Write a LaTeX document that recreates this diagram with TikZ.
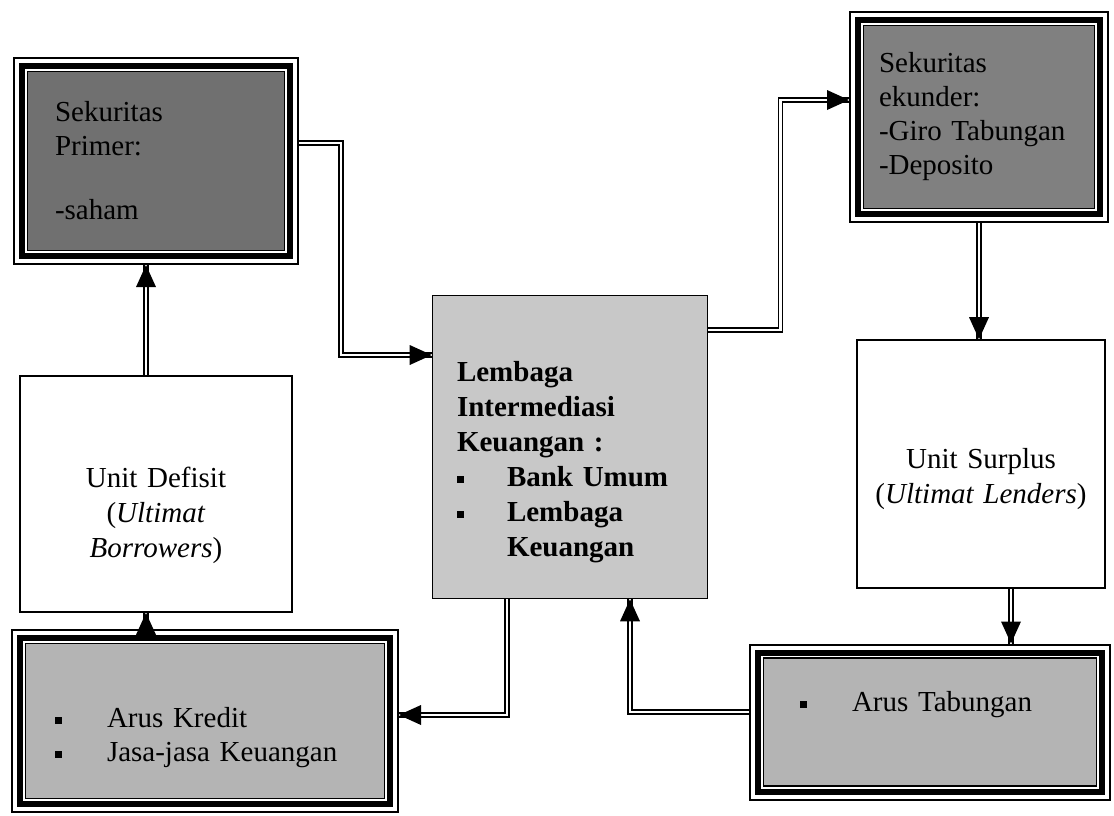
\documentclass[tikz,border=0pt]{standalone}
\usepackage{fontspec}
\setmainfont{Liberation Serif}
\usepackage{tikz}
\usetikzlibrary{arrows.meta,positioning,decorations.markings}
\definecolor{grisFonce}{RGB}{112,112,112}
\definecolor{grisMoyen}{RGB}{128,128,128}
\definecolor{grisClair}{RGB}{200,200,200}
\definecolor{grisPale}{RGB}{180,180,180}
\newcommand{\puce}{\rule[0.12em]{7pt}{7pt}}

\begin{document}
\begin{tikzpicture}[x=1pt, y=-1pt,
  boite/.style={draw, line width=1.6pt, fill=#1, inner sep=0pt,
                font=\fontsize{29}{35}\selectfont},
  cadre/.style={draw, line width=2pt, fill=white, inner sep=0pt,
                font=\fontsize{29}{34}\selectfont,
                path picture={
                  \draw[line width=6pt]
                    ([shift={(8pt,8pt)}]path picture bounding box.south west) rectangle
                    ([shift={(-8pt,-8pt)}]path picture bounding box.north east);
                  \draw[line width=1.5pt, fill=#1]
                    ([shift={(13.5pt,13.5pt)}]path picture bounding box.south west) rectangle
                    ([shift={(-13.5pt,-13.5pt)}]path picture bounding box.north east);
                }},
  fleche/.style={draw, double, double distance=2.8pt, line width=1.3pt,
                 postaction={decorate, decoration={markings,
                   mark=at position 1 with {\fill[black] (0pt,0pt) -- (-22pt,10pt)
                     -- (-22pt,-10pt) -- cycle;}}}}]

  \useasboundingbox (0,0) rectangle (1114,815);

  \node[cadre=grisFonce, minimum width=284pt, minimum height=206pt,
        text width=202pt, align=left] (SP) at (156,161)
    {Sekuritas\\Primer:\\[30pt]-saham};
  \node[cadre=grisMoyen, minimum width=258pt, minimum height=210pt,
        text width=200pt, align=left] (SE) at (979,117)
    {Sekuritas\\ekunder:\\-Giro Tabungan\\-Deposito};

  \node[boite=grisClair, minimum width=275pt, minimum height=303pt,
        text width=226pt, align=left, font=\fontsize{29}{35}\selectfont\bfseries]
    (LIK) at (570,447)
    {\mbox{}\\[16pt]Lembaga\\Intermediasi\\Keuangan :\\
     \makebox[50pt][l]{\puce}Bank Umum\\
     \makebox[50pt][l]{\puce}Lembaga\\
     \hspace*{50pt}Keuangan};

  \node[boite=white, minimum width=272pt, minimum height=236pt,
        text width=240pt, align=center] (UD) at (156,494)
    {\mbox{}\\[28pt]Unit Defisit\\(\textit{Ultimat}\\\textit{Borrowers})};
  \node[boite=white, minimum width=248pt, minimum height=248pt,
        text width=240pt, align=center] (US) at (981,464)
    {\mbox{}\\[15pt]Unit Surplus\\(\textit{Ultimat Lenders})};

  \node[cadre=grisPale, minimum width=386pt, minimum height=182pt,
        text width=300pt, align=left] (AK) at (205,721)
    {\mbox{}\\[20pt]\makebox[52pt][l]{\puce}Arus Kredit\\\makebox[52pt][l]{\puce}Jasa-jasa Keuangan};
  \node[cadre=grisPale, minimum width=360pt, minimum height=155pt,
        text width=260pt, align=left] (AT) at (930,722)
    {\makebox[52pt][l]{\puce}Arus Tabungan\\[8pt]\mbox{}};

  \draw[fleche] ([xshift=-10pt]UD.north) -- ([xshift=-10pt]UD.north |- SP.south);
  \draw[fleche] ([xshift=-10pt]UD.south |- AK.north) -- ([xshift=-10pt]UD.south);
  \draw[fleche] ([yshift=18pt]SP.east) -- ++(42,0) |- ([yshift=92pt]LIK.west);
  \draw[fleche] ([yshift=117pt]LIK.east) -- ++(72,0) |- ([yshift=17pt]SE.west);
  \draw[fleche] (SE.south) -- (SE.south |- US.north);
  \draw[fleche] ([xshift=30pt]US.south) -- ([xshift=30pt]US.south |- AT.north);
  \draw[fleche] ([xshift=-63pt]LIK.south) |- ([yshift=6pt]AK.east);
  \draw[fleche] ([yshift=10pt]AT.west) -| ([xshift=60pt]LIK.south);
\end{tikzpicture}
\end{document}
